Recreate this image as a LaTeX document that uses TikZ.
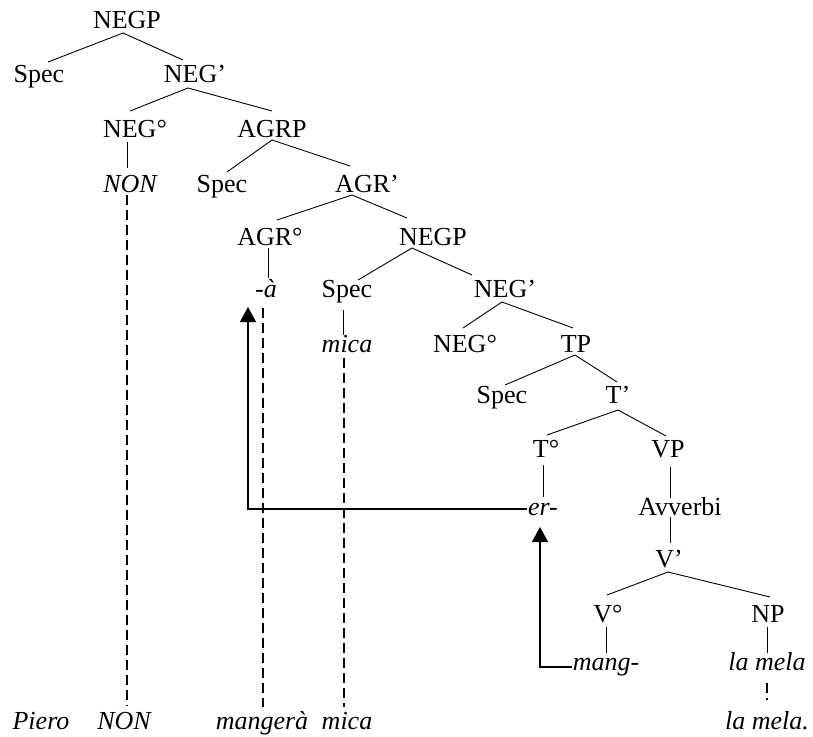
\documentclass[tikz,border=0pt]{standalone}
\usepackage{fontspec}
\setmainfont{Liberation Serif}
\usetikzlibrary{arrows.meta}
\begin{document}
\begin{tikzpicture}[x=1pt,y=1pt,
  lab/.style={anchor=base,inner sep=0pt,font=\fontsize{26}{30}\selectfont},
  it/.style={anchor=base,inner sep=0pt,font=\fontsize{26}{30}\selectfont\itshape},
  br/.style={line width=0.9pt},
  dsh/.style={line width=1.2pt,dash pattern=on 10pt off 5pt},
  mv/.style={line width=1.3pt,-{Triangle[width=16pt,length=15pt]}}]
\useasboundingbox (0,0) rectangle (813,-736);
% nodes
\node[lab] (negp)    at (127,-28)  {NEGP};
\node[lab] (spec1)   at (39,-82)   {Spec};
\node[lab] (negbar1) at (195,-82)  {NEG’};
\node[lab] (neg1)    at (135,-137) {NEG°};
\node[lab] (agrp)    at (272,-137) {AGRP};
\node[it]  (non1)    at (130,-192) {NON};
\node[lab] (spec2)   at (222,-192) {Spec};
\node[lab] (agrbar)  at (367,-192) {AGR’};
\node[lab] (agr)     at (270,-245) {AGR°};
\node[lab] (negp2)   at (433,-245) {NEGP};
\node[it]  (a)       at (266,-297) {-à};
\node[lab] (spec3)   at (347,-297) {Spec};
\node[lab] (negbar2) at (505,-297) {NEG’};
\node[it]  (mica1)   at (347,-352) {mica};
\node[lab] (neg2)    at (465,-352) {NEG°};
\node[lab] (tp)      at (576,-352) {TP};
\node[lab] (spec4)   at (502,-403) {Spec};
\node[lab] (tbar)    at (618,-403) {T’};
\node[lab] (t)       at (546,-457) {T°};
\node[lab] (vp)      at (668,-457) {VP};
\node[it]  (er)      at (543,-515) {er-};
\node[lab] (avv)     at (680,-515) {Avverbi};
\node[lab] (vbar)    at (669,-567) {V’};
\node[lab] (v)       at (608,-622) {V°};
\node[lab] (np)      at (768,-622) {NP};
\node[it]  (mang)    at (606,-670) {mang-};
\node[it]  (lamela1) at (767,-670) {la mela};
\node[it]  (piero)   at (41,-729)  {Piero};
\node[it]  (non2)    at (124,-729) {NON};
\node[it]  (mangera) at (262,-729) {mangerà};
\node[it]  (mica2)   at (347,-729) {mica};
\node[it]  (lamela2) at (767,-729) {la mela.};
% branches
\draw[br] ([xshift=9pt,yshift=20pt]spec1.base) -- ([xshift=-4pt,yshift=-5pt]negp.base) -- ([xshift=-12pt,yshift=22pt]negbar1.base);
\draw[br] ([xshift=-5pt,yshift=26pt]neg1.base) -- ([xshift=-7pt,yshift=-6pt]negbar1.base) -- ([xshift=0pt,yshift=26pt]agrp.base);
\draw[br] ([xshift=5pt,yshift=20pt]spec2.base) -- ([xshift=0pt,yshift=-3pt]agrp.base) -- ([xshift=-17pt,yshift=26pt]agrbar.base);
\draw[br] ([xshift=7pt,yshift=25pt]agr.base) -- ([xshift=-15pt,yshift=-3pt]agrbar.base) -- ([xshift=-26pt,yshift=27pt]negp2.base);
\draw[br] ([xshift=11pt,yshift=17pt]spec3.base) -- ([xshift=-21pt,yshift=-3pt]negp2.base) -- ([xshift=-33pt,yshift=22pt]negbar2.base);
\draw[br] ([xshift=-2pt,yshift=24pt]neg2.base) -- ([xshift=-3pt,yshift=-5pt]negbar2.base) -- ([xshift=-3pt,yshift=24pt]tp.base);
\draw[br] ([xshift=3pt,yshift=18pt]spec4.base) -- ([xshift=-1pt,yshift=-3pt]tp.base) -- ([xshift=-1pt,yshift=21pt]tbar.base);
\draw[br] ([xshift=1pt,yshift=22pt]t.base) -- ([xshift=0pt,yshift=-7pt]tbar.base) -- ([xshift=-2pt,yshift=21pt]vp.base);
\draw[br] ([xshift=-1pt,yshift=27pt]v.base) -- ([xshift=-1pt,yshift=-5pt]vbar.base) -- ([xshift=2pt,yshift=25pt]np.base);
% vertical branches
\draw[br] ([xshift=-8pt,yshift=-5pt]neg1.base) -- ([xshift=-3pt,yshift=24pt]non1.base);
\draw[br] ([xshift=-2pt,yshift=-3pt]agr.base) -- ([xshift=2pt,yshift=19pt]a.base);
\draw[br] ([xshift=-4pt,yshift=-13pt]spec3.base) -- ([xshift=-4pt,yshift=17pt]mica1.base);
\draw[br] ([xshift=-3pt,yshift=-8pt]t.base) -- ([xshift=0pt,yshift=18pt]er.base);
\draw[br] ([xshift=2pt,yshift=-10pt]vp.base) -- ([xshift=-10pt,yshift=17pt]avv.base);
\draw[br] ([xshift=-10pt,yshift=-2pt]avv.base) -- ([xshift=1pt,yshift=24pt]vbar.base);
\draw[br] ([xshift=-2pt,yshift=-5pt]v.base) -- ([xshift=0pt,yshift=17pt]mang.base);
\draw[br] ([xshift=-1pt,yshift=-5pt]np.base) -- ([xshift=0pt,yshift=17pt]lamela1.base);
% dashed traces
\draw[dsh] ([xshift=-3pt,yshift=-3pt]non1.base) -- ([xshift=3pt,yshift=23pt]non2.base);
\draw[dsh] ([xshift=-3pt,yshift=-11pt]a.base) -- ([xshift=1pt,yshift=22pt]mangera.base);
\draw[dsh] ([xshift=-3pt,yshift=-6pt]mica1.base) -- ([xshift=-3pt,yshift=22pt]mica2.base);
\draw[dsh] ([xshift=0pt,yshift=-13pt]lamela1.base) -- ([xshift=0pt,yshift=29pt]lamela2.base);
% movement arrows
\draw[mv] ([xshift=-16pt,yshift=6pt]er.base) -| ([xshift=-18pt,yshift=-10pt]a.base);
\draw[mv] ([xshift=-34pt,yshift=3pt]mang.base) -| ([xshift=-3pt,yshift=-12pt]er.base);
\end{tikzpicture}
\end{document}
